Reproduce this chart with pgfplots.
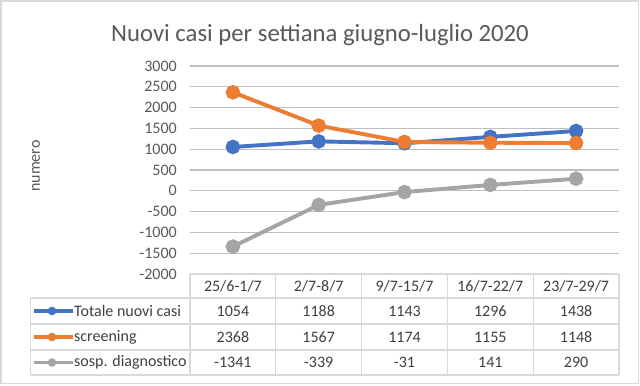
\documentclass[border=0pt]{standalone}
\usepackage{pgfplots}
\pgfplotsset{compat=1.18}
\usepackage{fontspec}
\setmainfont{Carlito}
\definecolor{cblue}{HTML}{4472C4}
\definecolor{corange}{HTML}{ED7D31}
\definecolor{cgray}{HTML}{A5A5A5}
\definecolor{grid}{HTML}{D9D9D9}
\definecolor{txt}{HTML}{595959}
\definecolor{ttxt}{HTML}{404040}
\begin{document}
\begin{tikzpicture}[x=1bp,y=1bp]
\useasboundingbox (0,0) rectangle (640,385);
\fill[white] (0,0) rectangle (640,385);
\draw[grid, line width=1.3bp] (1,1.5) rectangle (638.5,384);
\begin{axis}[
  at={(190bp,111bp)}, anchor=south west,
  scale only axis, width=429bp, height=208bp,
  xmin=-0.5, xmax=4.5, ymin=-2000, ymax=3000,
  ytick={-2000,-1500,...,3000}, xtick=\empty,
  ymajorgrids, grid style={grid, line width=1.3bp},
  axis line style={draw=none}, major tick length=0pt,
  /pgf/number format/assume math mode=true,
  /pgf/number format/1000 sep={},
  yticklabel style={font=\fontsize{16bp}{18bp}\selectfont, text=txt, inner sep=0pt, xshift=-13bp},
  clip=false,
  every axis plot/.append style={line width=3.9bp, mark=*, mark size=5.3bp},
]
\addplot[cblue, mark options={fill=cblue}] coordinates {(0,1054) (1,1188) (2,1143) (3,1296) (4,1438)};
\addplot[corange, mark options={fill=corange}] coordinates {(0,2368) (1,1567) (2,1174) (3,1155) (4,1148)};
\addplot[cgray, mark options={fill=cgray}] coordinates {(0,-1341) (1,-339) (2,-31) (3,141) (4,290)};
\end{axis}
% title and y label
\node[text=txt, font=\fontsize{24.7bp}{28bp}\selectfont] at (320,350) {Nuovi casi per settiana giugno-luglio 2020};
\node[text=txt, rotate=90, font=\fontsize{16bp}{18bp}\selectfont] at (36,219) {numero};
% data table grid
\begin{scope}[grid, line width=1.3bp]
\draw (190,111) -- (619,111);
\foreach \yy in {87,61,35,10} \draw (30.7,\yy) -- (619,\yy);
\draw (30.7,87) -- (30.7,10);
\foreach \i in {0,...,5} \draw ({190+85.8*\i},111) -- ({190+85.8*\i},10);
\end{scope}
\begin{scope}[font=\fontsize{16bp}{18bp}\selectfont, text=ttxt]
\foreach \lab [count=\i from 0] in {25/6-1/7, 2/7-8/7, 9/7-15/7, 16/7-22/7, 23/7-29/7}
  \node at ({232.9+85.8*\i},99) {\lab};
\foreach \v [count=\i from 0] in {1054,1188,1143,1296,1438}
  \node at ({232.9+85.8*\i},74) {\v};
\foreach \v [count=\i from 0] in {2368,1567,1174,1155,1148}
  \node at ({232.9+85.8*\i},48) {\v};
\foreach \v [count=\i from 0] in {-1341,-339,-31,141,290}
  \node at ({232.9+85.8*\i},22.5) {\v};
\node[anchor=west, inner sep=0pt] at (74,74) {Totale nuovi casi};
\node[anchor=west, inner sep=0pt] at (74,48) {screening};
\node[anchor=west, inner sep=0pt] at (74,22.5) {sosp. diagnostico};
\end{scope}
\draw[cblue, line width=3.9bp] (34,74) -- (73,74); \fill[cblue] (52,74) circle (4.3bp);
\draw[corange, line width=3.9bp] (34,48) -- (73,48); \fill[corange] (52,48) circle (4.3bp);
\draw[cgray, line width=3.9bp] (34,22.5) -- (73,22.5); \fill[cgray] (52,22.5) circle (4.3bp);
\end{tikzpicture}
\end{document}
